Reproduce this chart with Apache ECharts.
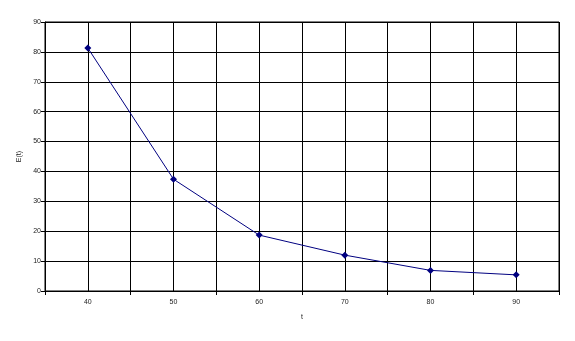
<!DOCTYPE html>
<html>
<head>
<meta charset="utf-8">
<script src="https://cdn.jsdelivr.net/npm/echarts@6/dist/echarts.min.js"></script>
<style>html,body{margin:0;padding:0;background:#fff}#c{width:575px;height:341px}</style>
</head>
<body>
<div id="c"></div>
<script>
var categories = [40, 50, 60, 70, 80, 90];
var values = [81.3, 37.4, 18.7, 12.0, 6.9, 5.4];
var yTicks = [0, 10, 20, 30, 40, 50, 60, 70, 80, 90];

var data = categories.map(function (c, i) { return [c, values[i]]; });
var chart = echarts.init(document.getElementById('c'));
var font = { fontFamily: 'Liberation Sans, Arial', fontSize: 7, color: '#222' };
chart.setOption({
  animation: false,
  grid: { left: 45, right: 16, top: 22, bottom: 50, show: true, borderColor: '#000', borderWidth: 1 },
  xAxis: [{
    type: 'value', min: 35, max: 95, interval: 5,
    name: 't', nameLocation: 'middle', nameGap: 23,
    nameTextStyle: font,
    axisLine: { show: true, lineStyle: { color: '#000' } },
    axisTick: { show: false },
    axisLabel: Object.assign({ margin: 8, formatter: function (v) { return v % 10 === 0 ? String(v) : ''; } }, font),
    splitLine: { show: true, lineStyle: { color: '#000', width: 1 } }
  }, {
    type: 'value', min: 0, max: 6, interval: 1, position: 'bottom',
    axisLine: { show: false },
    axisTick: { show: true, length: 4, inside: false, lineStyle: { color: '#000' } },
    axisLabel: { show: false },
    splitLine: { show: false }
  }],
  yAxis: {
    type: 'value', min: yTicks[0], max: yTicks[yTicks.length - 1], interval: 10,
    name: 'E(t)', nameLocation: 'middle', nameGap: 18, nameRotate: 90,
    nameTextStyle: font,
    axisLine: { show: true, lineStyle: { color: '#000' } },
    axisTick: { show: true, length: 4, lineStyle: { color: '#000' } },
    axisLabel: Object.assign({ margin: 4 }, font),
    splitLine: { show: true, lineStyle: { color: '#000', width: 1 } }
  },
  series: [{
    type: 'line', xAxisIndex: 0, data: data,
    symbol: 'diamond', symbolSize: 7,
    lineStyle: { color: '#000080', width: 1 },
    itemStyle: { color: '#000080' }
  }]
});
</script>
</body>
</html>
